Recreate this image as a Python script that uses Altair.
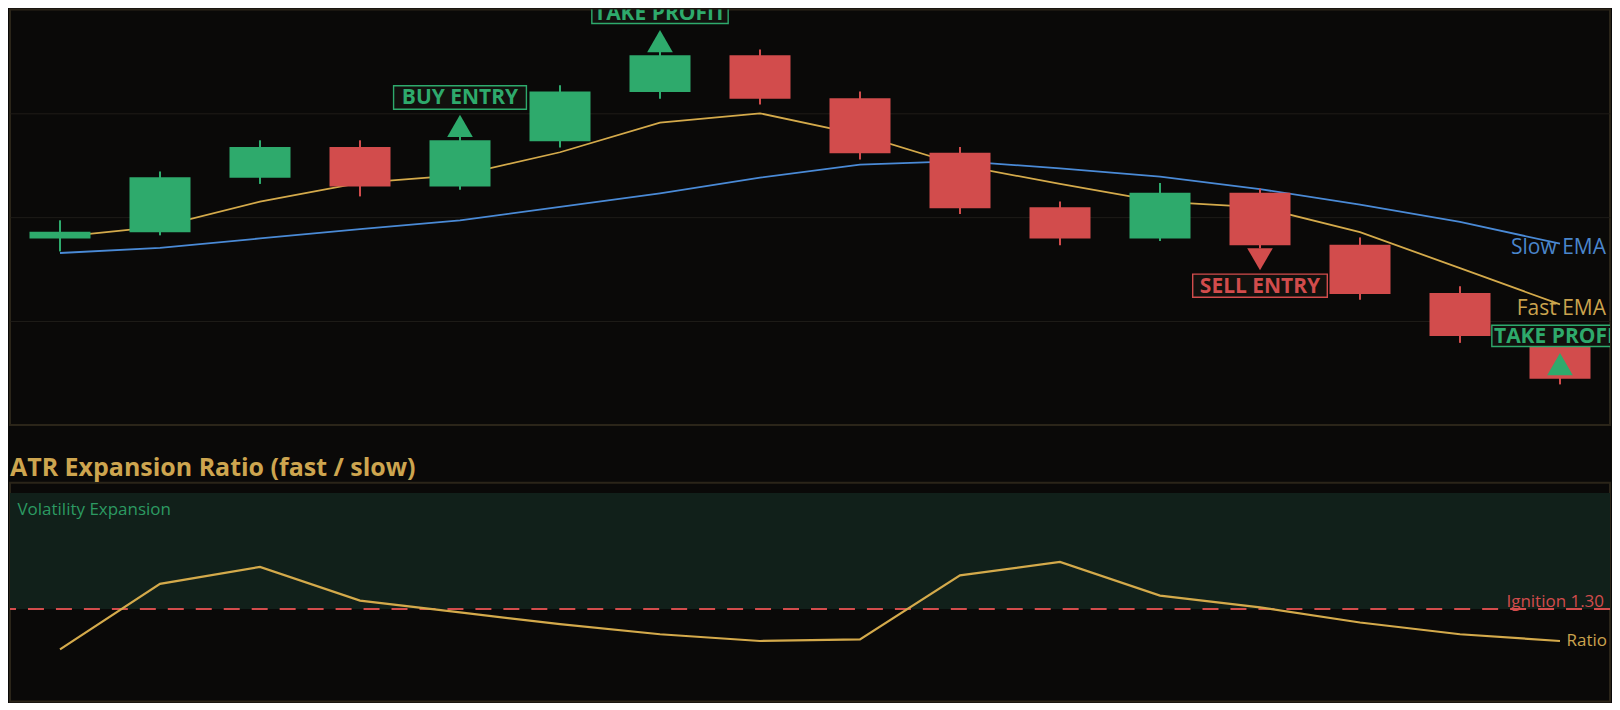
import altair as alt
import pandas as pd

# ---------------- data ----------------
bars = list(range(16))
opens = [99.59, 99.71, 100.76, 101.35, 100.59, 101.46, 102.41, 103.12,
         102.29, 101.24, 100.19, 99.59, 100.47, 99.47, 98.54, 97.69]
highs = [99.94, 100.88, 101.48, 101.48, 101.58, 102.54, 103.23, 103.23,
         102.42, 101.35, 100.30, 100.66, 100.55, 99.61, 98.67, 97.80]
lows = [99.34, 99.65, 100.64, 100.40, 100.53, 101.34, 102.28, 102.17,
        101.11, 100.06, 99.46, 99.54, 99.40, 98.41, 97.58, 96.78]
closes = [99.72, 100.77, 101.35, 100.59, 101.48, 102.42, 103.12, 102.28,
          101.23, 100.17, 99.59, 100.47, 99.46, 98.52, 97.71, 96.89]
fast_ema = [99.62, 99.82, 100.30, 100.66, 100.81, 101.25, 101.82, 102.00,
            101.59, 101.00, 100.64, 100.30, 100.19, 99.71, 99.02, 98.32]
slow_ema = [99.31, 99.41, 99.59, 99.77, 99.94, 100.20, 100.46, 100.76,
            101.01, 101.08, 100.94, 100.78, 100.54, 100.24, 99.91, 99.49]
atr_ratio = [1.06, 1.45, 1.55, 1.35, 1.28, 1.21, 1.15, 1.11,
             1.12, 1.50, 1.58, 1.38, 1.31, 1.22, 1.15, 1.11]

signal_bars = [4, 6, 12, 15]
signal_labels = ["BUY ENTRY", "TAKE PROFIT", "SELL ENTRY", "TAKE PROFIT"]
signal_sides = ["above", "above", "below", "above"]
signal_prices = [101.76, 103.39, 99.19, 97.17]

ignition = 1.30
expansion_top = 1.99
price_domain = [96, 104]
price_grid = [98, 100, 102]
ratio_domain = [0.75, 2.05]

# ---------------- styling ----------------
GREEN = "#2eaa6c"
RED = "#d24c4c"
GOLD = "#d4aa4b"
BLUE = "#4a8ad6"
BLUE_LBL = "#4a86cc"
GOLD_LBL = "#caa34e"
TITLE_GOLD = "#cda54f"
VOL_GREEN = "#2c9a62"
BG = "#0a0908"
BORDER = "#2b2519"
GRID = "#1e1c18"
BAND = "#11201a"
BOXFILL = "#12110e"
FONT = "Open Sans"

W = 1602
H_TOP = 416
H_BOT = 219
GAP = 58

box_labels = ["BUY ENTRY", "SELL ENTRY", "TAKE PROFIT"]
box_widths = [133, 136.5, 151]
box_half_h = 11.75
box_paths = []
box_sizes = []
for bw in box_widths:
    s = bw / 2.0
    hh = box_half_h / s
    box_paths.append(f"M-1,-{hh:.4f}L1,-{hh:.4f}L1,{hh:.4f}L-1,{hh:.4f}Z")
    box_sizes.append(bw * bw)

candles = pd.DataFrame({
    "bar": bars, "open": opens, "high": highs, "low": lows, "close": closes,
    "fast": fast_ema, "slow": slow_ema,
})
signals = pd.DataFrame({
    "bar": signal_bars, "label": signal_labels, "side": signal_sides,
    "price": signal_prices,
})
ratio_df = pd.DataFrame({"bar": bars, "ratio": atr_ratio})
zone_df = pd.DataFrame({"lo": [ignition], "hi": [expansion_top]})

x_enc = alt.X("bar:O",
              scale=alt.Scale(type="band", domain=bars, paddingInner=0, paddingOuter=0),
              axis=None)
y_price = alt.Scale(domain=price_domain, nice=False, zero=False)
y_axis = alt.Axis(values=price_grid, grid=True, gridColor=GRID, gridWidth=1,
                  labels=False, ticks=False, domain=False, title=None)


def py(field):
    return alt.Y(field, scale=y_price, axis=y_axis)


candle_color = alt.condition("datum.close >= datum.open", alt.value(GREEN), alt.value(RED))
base = alt.Chart(candles)

fast_line = base.mark_line(color=GOLD, strokeWidth=1.8).encode(x=x_enc, y=py("fast:Q"))
slow_line = base.mark_line(color=BLUE, strokeWidth=1.8).encode(x=x_enc, y=py("slow:Q"))
wicks = base.mark_rule(strokeWidth=2).encode(x=x_enc, y=py("low:Q"), y2="high:Q", color=candle_color)
bodies = base.mark_bar(width=alt.RelativeBandSize(0.61)).encode(
    x=x_enc, y=py("open:Q"), y2="close:Q", color=candle_color)

last_bar = base.transform_filter(f"datum.bar == {bars[-1]}")
slow_lbl = last_bar.mark_text(text="Slow EMA", align="right", baseline="alphabetic", dx=46, dy=10.5,
                              font=FONT, fontSize=21, color=BLUE_LBL).encode(x=x_enc, y=py("slow:Q"))
fast_lbl = last_bar.mark_text(text="Fast EMA", align="right", baseline="alphabetic", dx=46, dy=11,
                              font=FONT, fontSize=21, color=GOLD_LBL).encode(x=x_enc, y=py("fast:Q"))


def signal_layers(side, color, shape, box_dy):
    src = alt.Chart(signals).transform_filter(f"datum.side == '{side}'")
    tri = src.mark_point(shape=shape, filled=True, size=660, color=color, opacity=1,
                         strokeWidth=0).encode(x=x_enc, y=py("price:Q"))
    box = src.mark_point(filled=True, fill=BOXFILL, stroke=color, strokeWidth=1.4, opacity=1,
                         fillOpacity=1, strokeOpacity=1, yOffset=box_dy, clip=True).encode(
        x=x_enc, y=py("price:Q"),
        shape=alt.Shape("label:N", scale=alt.Scale(domain=box_labels, range=box_paths), legend=None),
        size=alt.Size("label:O", scale=alt.Scale(domain=box_labels, range=box_sizes), legend=None))
    txt = src.mark_text(font=FONT, fontSize=21, fontWeight="bold", color=color, baseline="middle",
                        dy=1, yOffset=box_dy, clip=True).encode(x=x_enc, y=py("price:Q"), text="label:N")
    return [tri, box, txt]


top = alt.layer(
    fast_line, slow_line, wicks, bodies,
    *signal_layers("above", GREEN, "triangle-up", -28.3),
    *signal_layers("below", RED, "triangle-down", 26.5),
    slow_lbl, fast_lbl,
).properties(width=W, height=H_TOP)

y_ratio = alt.Scale(domain=ratio_domain, nice=False, zero=False)


def ry(field):
    return alt.Y(field, scale=y_ratio, axis=None)


zone = alt.Chart(zone_df).mark_rect(color=BAND).encode(
    x=alt.value(0), x2=alt.value("width"), y=ry("lo:Q"), y2="hi:Q")
zone_txt = alt.Chart(zone_df).mark_text(text="Volatility Expansion", align="left", baseline="alphabetic",
                                        dy=21.8, font=FONT, fontSize=17, color=VOL_GREEN).encode(
    x=alt.value(7.5), y=ry("hi:Q"))
ign_rule = alt.Chart(zone_df).mark_rule(color=RED, strokeWidth=2, strokeDash=[16, 12]).encode(y=ry("lo:Q"))
ign_txt = alt.Chart(zone_df).mark_text(text=f"Ignition {ignition:.2f}", align="right", baseline="alphabetic",
                                       dy=-2.5, font=FONT, fontSize=17, color=RED).encode(
    x=alt.value(W - 6), y=ry("lo:Q"))
ratio_line = alt.Chart(ratio_df).mark_line(color=GOLD, strokeWidth=2.2).encode(x=x_enc, y=ry("ratio:Q"))
ratio_lbl = alt.Chart(ratio_df).transform_filter(f"datum.bar == {bars[-1]}").mark_text(
    text="Ratio", align="left", baseline="middle", dx=6.5, font=FONT, fontSize=17,
    color=GOLD_LBL).encode(x=x_enc, y=ry("ratio:Q"))

bottom = alt.layer(zone, zone_txt, ign_rule, ign_txt, ratio_line, ratio_lbl).properties(
    width=W, height=H_BOT,
    title=alt.TitleParams("ATR Expansion Ratio (fast / slow)", anchor="start", frame="group",
                          offset=6, dy=24, baseline="alphabetic", font=FONT, fontSize=25,
                          fontWeight="bold", color=TITLE_GOLD),
)

chart = alt.vconcat(top, bottom, spacing=GAP, bounds="flush", padding=0).configure(
    background=BG, font=FONT
).configure_view(stroke=BORDER, strokeWidth=2, fill=BG)

chart.save("out.html", embed_options={"renderer": "svg", "actions": False})
